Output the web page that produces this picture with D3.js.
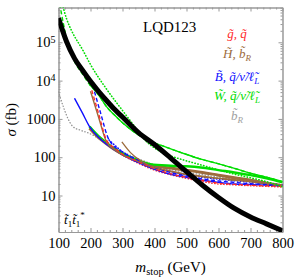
<!DOCTYPE html>
<html>
<head>
<meta charset="utf-8">
<script src="https://cdn.jsdelivr.net/npm/d3@7"></script>
<style>
html, body { margin: 0; padding: 0; background: #fff; }
svg { display: block; }
text { font-family: 'Liberation Serif', 'Times New Roman', serif; }
</style>
</head>
<body>
<svg id="chart" width="295" height="279"></svg>
<script>
// values (mass in GeV, sigma in fb)
// stop pair production cross section
const stopMass = [100, 125, 150, 175, 200, 225, 250, 275, 300, 350, 400, 450, 500, 550, 600, 650, 700, 750, 800];
const stopSigma = [430000, 105000, 38000, 18600, 9550, 5250, 3020, 1780, 1120, 437, 214, 96, 42, 18.6, 8.9, 4.6, 2.75, 1.82, 1.2];

// green (wino) curves
const greenDashMass = [104, 115, 130, 150, 175, 197, 225, 250, 275, 300, 350, 387, 440, 490, 545, 595, 650, 700, 750, 800];
const greenDashSigma = [1000000, 316000, 89000, 31600, 14800, 7940, 4270, 2090, 1260, 794, 380, 263, 178, 126, 89, 69, 51, 38, 30, 23];
const greenDotMass = [112, 125, 140, 177, 200, 250, 300, 340, 370, 400, 440, 490, 545, 595, 650, 700, 750, 800];
const greenDotSigma = [1000000, 417000, 209000, 60300, 26300, 6030, 1660, 603, 282, 174, 117, 85, 63, 48, 36, 29, 23, 17];
const greenLowMass = [197, 225, 250, 275, 300, 333, 387, 450, 500, 545, 600, 650, 700, 750, 800];
const greenLowSigma = [631, 355, 240, 166, 126, 93, 66, 60, 58, 54, 46, 40, 34, 28, 22];

// brown (higgsino) curves
const brownThickMass = [197, 225, 250, 275, 300, 333, 387, 450, 500, 550, 600, 650, 700, 750, 800];
const brownThickSigma = [575, 331, 224, 158, 120, 91, 63, 52, 46, 40, 34, 29, 25, 21, 18];
const brownSteepMass = [200, 225, 250, 275, 300, 350, 400, 450, 500, 550, 600, 650, 700, 750, 800];
const brownSteepSigma = [5250, 1120, 251, 158, 115, 76, 52, 42, 35, 31, 28, 25, 23, 20, 18];
const brownLateMass = [298, 325, 353, 380, 410, 450, 500, 550, 600, 650, 700, 750, 800];
const brownLateSigma = [251, 132, 85, 63, 52, 44, 36, 32, 28, 26, 23, 21, 19];

// red (gluino/squark) curves
const redDashMass = [204, 225, 250, 275, 300, 350, 400, 450, 500, 550, 600, 650, 700, 750, 800];
const redDashSigma = [5620, 1410, 282, 174, 120, 76, 50, 37, 30, 25, 21, 19.5, 18.6, 17.8, 17.4];
const redMass = [200, 250, 300, 350, 400, 450, 500, 550, 600, 650, 700, 750, 800];
const redSigma = [525, 229, 115, 69, 46, 35, 28, 23, 20, 19, 18, 17.4, 16.6];

// blue (bino) curves
const blueMass = [150, 175, 197, 225, 250, 300, 350, 400, 450, 500, 550, 600, 650, 700, 750, 800];
const blueSigma = [3470, 1410, 631, 331, 219, 115, 72, 48, 36, 30, 25, 22, 20, 19.5, 18.6, 17.8];
const blueDashMass = [207, 230, 258, 300, 350, 400, 450, 500, 550, 600, 650, 700, 750, 800];
const blueDashSigma = [7590, 1580, 282, 138, 83, 54, 40, 32, 27, 24, 22, 20.4, 19.5, 18.6];
const blueDotMass = [258, 303, 355, 387, 450, 491, 550, 595, 650, 699, 750, 800];
const blueDotSigma = [282, 132, 72, 58, 43, 35, 30, 27, 24.5, 22.4, 20.4, 19];

// gray (sbottom) curve
const grayMass = [100, 115, 130, 145, 170, 197, 250, 300, 350, 400, 450, 500, 550, 600, 650, 700, 750, 800];
const graySigma = [5130, 2090, 1000, 631, 501, 417, 224, 138, 91, 63, 48, 40, 35, 30, 27, 24, 21, 19];

// ticks and legend
const xMajor = [100, 200, 300, 400, 500, 600, 700, 800];
const yMajor = [10, 100, 1000, 10000, 100000];
const legendLabels = ['g\u0303, q\u0303', 'H\u0303, b\u0303', 'B\u0303, q\u0303/\u03bd\u0303/\u2113\u0303', 'W\u0303, q\u0303/\u03bd\u0303/\u2113\u0303', 'b\u0303'];
const legendSubs = ['', 'R', 'L', 'L', 'R'];

// colours
const cRed = '#ff2b2b', cBrown = '#9c6b3c', cBlue = '#1010ff', cGreen = '#00dd00', cGray = '#909090';
const legendColors = [cRed, cBrown, cBlue, cGreen, '#a0a0a0'];

// layout
const plotLeft = 58.5, plotRight = 282.5, plotTop = 7.5, plotBottom = 232;
const frameColor = '#999';

const svg = d3.select('#chart');

const x = d3.scaleLinear().domain([100, 800]).range([plotLeft, plotRight]);
const y = d3.scaleLog().domain([Math.pow(10, 0.047), Math.pow(10, 5.909)]).range([plotBottom, plotTop]);

// frame with ticks on every side
const xMinor = d3.range(100, 801, 20).filter(d => d % 100 !== 0);
const yMinor = [];
for (let k = 0; k < 6; k++) {
	for (let j = 2; j < 10; j++) {
		const v = j * Math.pow(10, k);
		if (v > y.domain()[0] && v < y.domain()[1]) yMinor.push(v);
	}
}

function styleAxis(g){
	g.selectAll('path.domain').attr('stroke', frameColor).attr('stroke-width', 1);
	g.selectAll('.tick line').attr('stroke', frameColor);
	g.selectAll('.tick text').attr('font-family', "'Liberation Serif', serif").attr('font-size', '14.5px').attr('fill', '#000');
}

svg.append('g')
	.attr('transform', 'translate(0,' + plotBottom + ')')
	.call(d3.axisBottom(x).tickValues(xMajor).tickSize(-4).tickSizeOuter(0).tickPadding(6).tickFormat(d3.format('d')))
	.call(styleAxis);
svg.append('g')
	.attr('transform', 'translate(0,' + plotBottom + ')')
	.call(d3.axisBottom(x).tickValues(xMinor).tickSize(-2).tickSizeOuter(0).tickFormat(''))
	.call(styleAxis);
svg.append('g')
	.attr('transform', 'translate(0,' + plotTop + ')')
	.call(d3.axisTop(x).tickValues(xMajor).tickSize(-4).tickSizeOuter(0).tickFormat(''))
	.call(styleAxis);
svg.append('g')
	.attr('transform', 'translate(0,' + plotTop + ')')
	.call(d3.axisTop(x).tickValues(xMinor).tickSize(-2).tickSizeOuter(0).tickFormat(''))
	.call(styleAxis);

const yAxisG = svg.append('g')
	.attr('transform', 'translate(' + plotLeft + ',0)')
	.call(d3.axisLeft(y).tickValues(yMajor).tickSize(-4).tickSizeOuter(0).tickPadding(3).tickFormat(d => d >= 10000 ? '10' : String(d)))
	.call(styleAxis);
// powers of ten get a superscript
yAxisG.selectAll('.tick text').each(function(d){
	if (d >= 10000) {
		d3.select(this).append('tspan')
			.attr('dy', '-0.45em')
			.attr('font-size', '10px')
			.text(Math.round(Math.log10(d)));
	}
});
svg.append('g')
	.attr('transform', 'translate(' + plotLeft + ',0)')
	.call(d3.axisLeft(y).tickValues(yMinor).tickSize(-2).tickSizeOuter(0).tickFormat(''))
	.call(styleAxis);
svg.append('g')
	.attr('transform', 'translate(' + plotRight + ',0)')
	.call(d3.axisRight(y).tickValues(yMajor).tickSize(-4).tickSizeOuter(0).tickFormat(''))
	.call(styleAxis);
svg.append('g')
	.attr('transform', 'translate(' + plotRight + ',0)')
	.call(d3.axisRight(y).tickValues(yMinor).tickSize(-2).tickSizeOuter(0).tickFormat(''))
	.call(styleAxis);

// clip the curves to the frame
svg.append('defs').append('clipPath').attr('id', 'plot-clip')
	.append('rect')
		.attr('x', plotLeft).attr('y', plotTop)
		.attr('width', plotRight - plotLeft).attr('height', plotBottom - plotTop);

const plot = svg.append('g').attr('clip-path', 'url(#plot-clip)');

const line = d3.line()
	.x(d => x(d[0]))
	.y(d => y(d[1]))
	.curve(d3.curveMonotoneX);

const dotted = '0.4,2.6', dashed = '4,2.5';

// drawing order: bottom first, black band on top
const curves = [
	{m: grayMass, s: graySigma, color: cGray, width: 1.3, dash: dotted},
	{m: brownThickMass, s: brownThickSigma, color: cBrown, width: 3, dash: null},
	{m: greenLowMass, s: greenLowSigma, color: cGreen, width: 2.4, dash: null},
	{m: redMass, s: redSigma, color: cRed, width: 1.5, dash: dotted},
	{m: blueMass, s: blueSigma, color: cBlue, width: 1.4, dash: null},
	{m: blueDotMass, s: blueDotSigma, color: cBlue, width: 1.6, dash: dotted},
	{m: brownSteepMass, s: brownSteepSigma, color: cBrown, width: 1.4, dash: null},
	{m: redDashMass, s: redDashSigma, color: cRed, width: 1.3, dash: dashed},
	{m: blueDashMass, s: blueDashSigma, color: cBlue, width: 1.4, dash: dashed},
	{m: brownLateMass, s: brownLateSigma, color: cBrown, width: 1.3, dash: null},
	{m: greenDashMass.filter(m => m >= 197), s: greenDashSigma.filter((v, i) => greenDashMass[i] >= 197), color: cGreen, width: 1.4, dash: null},
	{m: greenDashMass, s: greenDashSigma, color: cGreen, width: 1.4, dash: dashed},
	{m: greenDotMass, s: greenDotSigma, color: cGreen, width: 1.6, dash: dotted},
	{m: stopMass, s: stopSigma, color: '#000', width: 5, dash: null}
];

curves.forEach(function(c){
	plot.append('path')
		.datum(d3.zip(c.m, c.s))
		.attr('d', line)
		.attr('fill', 'none')
		.attr('stroke', c.color)
		.attr('stroke-width', c.width)
		.attr('stroke-linecap', c.dash === dotted ? 'round' : 'butt')
		.attr('stroke-dasharray', c.dash);
});

// model label
svg.append('text')
	.attr('x', 143).attr('y', 32)
	.attr('font-size', '15px')
	.text('LQD123');

// legend
const legendY = [38, 58, 81, 100, 120];
legendLabels.forEach(function(label, i){
	const t = svg.append('text')
		.attr('x', 237).attr('y', legendY[i])
		.attr('text-anchor', 'middle')
		.attr('font-size', '13px')
		.attr('font-style', 'italic')
		.attr('fill', legendColors[i])
		.text(label);
	if (legendSubs[i]) {
		t.append('tspan')
			.attr('dy', 3)
			.attr('font-size', '9px')
			.text(legendSubs[i]);
	}
});

// process label
const proc = svg.append('text')
	.attr('x', 64).attr('y', 224)
	.attr('font-size', '13px')
	.attr('font-style', 'italic');
proc.append('tspan').text('t\u0303');
proc.append('tspan').attr('dy', 3).attr('font-size', '9px').attr('font-style', 'normal').text('1');
proc.append('tspan').attr('dy', -3).text('t\u0303');
proc.append('tspan').attr('dy', 3).attr('font-size', '9px').attr('font-style', 'normal').text('1');
proc.append('tspan').attr('dy', -9).attr('font-size', '9px').attr('font-style', 'normal').text('*');

// axis titles
const xTitle = svg.append('text')
	.attr('x', (plotLeft + plotRight) / 2).attr('y', 272)
	.attr('text-anchor', 'middle')
	.attr('font-size', '15px');
xTitle.append('tspan').attr('font-style', 'italic').text('m');
xTitle.append('tspan').attr('dy', 3).attr('font-size', '10.5px').text('stop');
xTitle.append('tspan').attr('dy', -3).text(' (GeV)');

const yTitle = svg.append('text')
	.attr('transform', 'translate(16,' + ((plotTop + plotBottom) / 2) + ') rotate(-90)')
	.attr('text-anchor', 'middle')
	.attr('font-size', '15px');
yTitle.append('tspan').attr('font-style', 'italic').text('\u03c3');
yTitle.append('tspan').text(' (fb)');
</script>
</body>
</html>
